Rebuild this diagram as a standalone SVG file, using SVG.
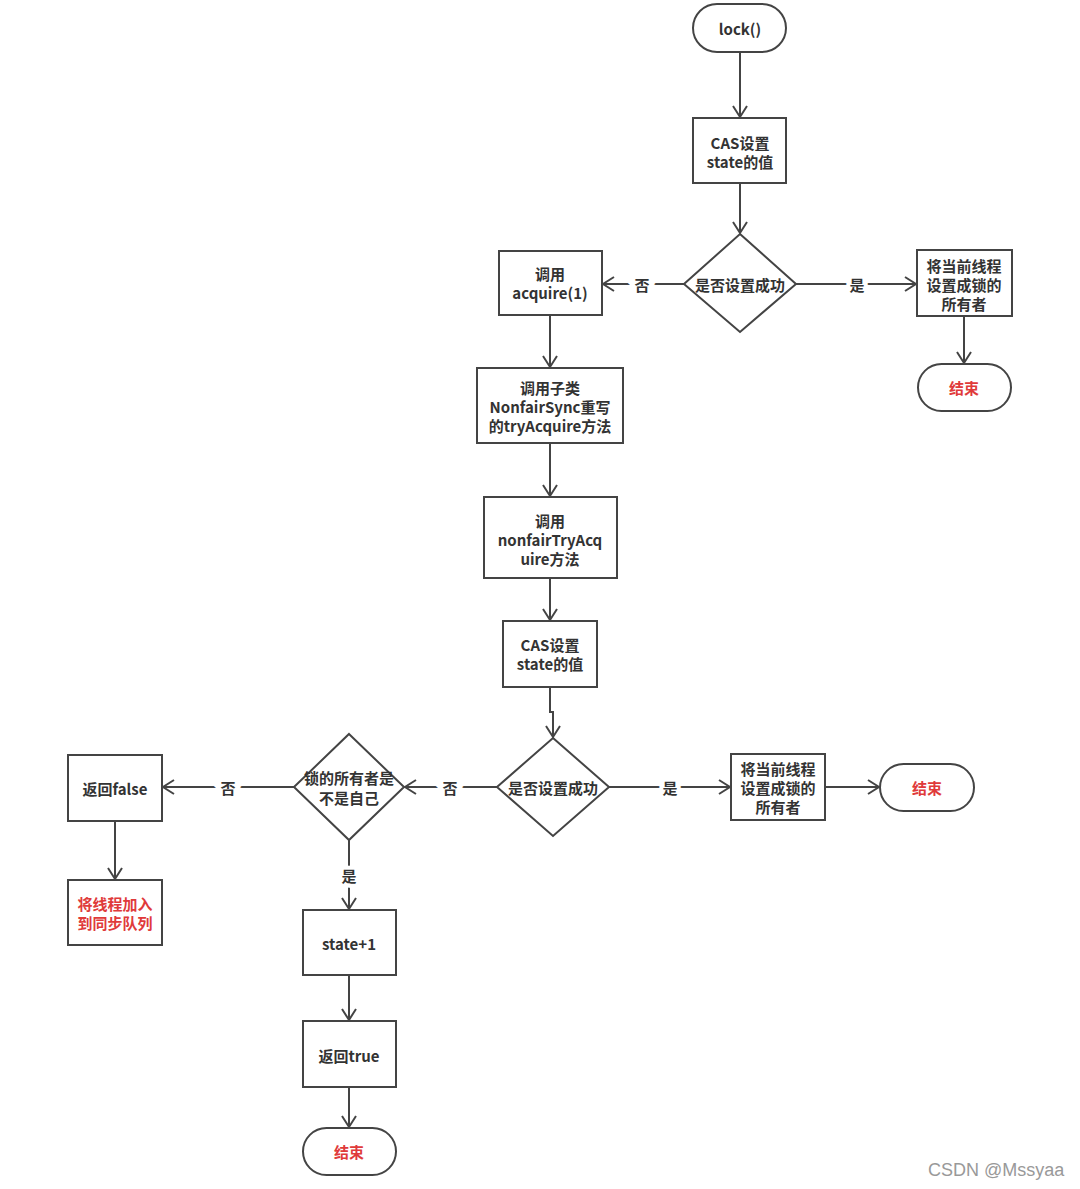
<svg xmlns="http://www.w3.org/2000/svg" width="1080" height="1189" viewBox="0 0 1080 1189">
<defs>
<marker id="arr" markerUnits="userSpaceOnUse" markerWidth="14" markerHeight="16" viewBox="0 0 14 16" refX="12" refY="8" orient="auto">
<path d="M1,1 L12,8 L1,15" fill="none" stroke="#444" stroke-width="2"/>
</marker>
</defs>
<style>
.n{fill:#fff;stroke:#444;stroke-width:2}
.t{font-family:"Noto Sans CJK SC","Liberation Sans",sans-serif;font-size:15px;font-weight:bold;fill:#333;text-anchor:middle;dominant-baseline:central}
.r{fill:#e03a3a}
.c{fill:none;stroke:#444;stroke-width:2}
.l{font-family:"Noto Sans CJK SC","Liberation Sans",sans-serif;font-size:15px;font-weight:bold;fill:#333;text-anchor:middle;dominant-baseline:central;paint-order:stroke;stroke:#fff;stroke-width:8px}
</style>
<rect width="1080" height="1189" fill="#fff"/>
<g id="connectors">
<path class="c" d="M740,52 V117" marker-end="url(#arr)"/>
<path class="c" d="M740,183 V233" marker-end="url(#arr)"/>
<path class="c" d="M796,284 H916" marker-end="url(#arr)"/>
<path class="c" d="M964,316 V363" marker-end="url(#arr)"/>
<path class="c" d="M684,284 H603" marker-end="url(#arr)"/>
<path class="c" d="M550,315 V367" marker-end="url(#arr)"/>
<path class="c" d="M550,443 V496" marker-end="url(#arr)"/>
<path class="c" d="M550,578 V620" marker-end="url(#arr)"/>
<path class="c" d="M550,687 V712 H553 V737" marker-end="url(#arr)"/>
<path class="c" d="M609,787 H730" marker-end="url(#arr)"/>
<path class="c" d="M825,787 H879" marker-end="url(#arr)"/>
<path class="c" d="M497,787 H405" marker-end="url(#arr)"/>
<path class="c" d="M294,787 H163" marker-end="url(#arr)"/>
<path class="c" d="M115,821 V879" marker-end="url(#arr)"/>
<path class="c" d="M349,840 V909" marker-end="url(#arr)"/>
<path class="c" d="M349,975 V1020" marker-end="url(#arr)"/>
<path class="c" d="M349,1087 V1127" marker-end="url(#arr)"/>
<text class="l" x="857" y="284">是</text>
<text class="l" x="642" y="284">否</text>
<text class="l" x="670" y="787">是</text>
<text class="l" x="450" y="787">否</text>
<text class="l" x="228" y="787">否</text>
<text class="l" x="349" y="875">是</text>
</g>
<g id="lock">
<rect class="n" x="693" y="4" width="93" height="48" rx="24"/>
<text class="t" x="740" y="28">lock()</text>
</g>
<g id="cas1">
<rect class="n" x="693" y="118" width="93" height="65"/>
<text class="t" x="740" y="142">CAS设置</text>
<text class="t" x="740" y="161">state的值</text>
</g>
<g id="dec1">
<polygon class="n" points="740,234 796,284 740,332 684,284"/>
<text class="t" x="740" y="284">是否设置成功</text>
</g>
<g id="owner1">
<rect class="n" x="917" y="250" width="95" height="66"/>
<text class="t" x="964" y="265">将当前线程</text>
<text class="t" x="964" y="284">设置成锁的</text>
<text class="t" x="964" y="303">所有者</text>
</g>
<g id="end1">
<rect class="n" x="918" y="364" width="93" height="47" rx="23.5"/>
<text class="t r" x="964" y="387">结束</text>
</g>
<g id="acquire">
<rect class="n" x="499" y="251" width="103" height="64"/>
<text class="t" x="550" y="273">调用</text>
<text class="t" x="550" y="292">acquire(1)</text>
</g>
<g id="tryAcquire">
<rect class="n" x="477" y="368" width="146" height="75"/>
<text class="t" x="550" y="387">调用子类</text>
<text class="t" x="550" y="406">NonfairSync重写</text>
<text class="t" x="550" y="425">的tryAcquire方法</text>
</g>
<g id="nonfair">
<rect class="n" x="484" y="497" width="133" height="81"/>
<text class="t" x="550" y="520">调用</text>
<text class="t" x="550" y="539">nonfairTryAcq</text>
<text class="t" x="550" y="558">uire方法</text>
</g>
<g id="cas2">
<rect class="n" x="503" y="621" width="94" height="66"/>
<text class="t" x="550" y="644">CAS设置</text>
<text class="t" x="550" y="663">state的值</text>
</g>
<g id="dec2">
<polygon class="n" points="553,738 609,787 553,836 497,787"/>
<text class="t" x="553" y="787">是否设置成功</text>
</g>
<g id="owner2">
<rect class="n" x="731" y="754" width="94" height="66"/>
<text class="t" x="778" y="768">将当前线程</text>
<text class="t" x="778" y="787">设置成锁的</text>
<text class="t" x="778" y="806">所有者</text>
</g>
<g id="end2">
<rect class="n" x="880" y="764" width="94" height="47" rx="23.5"/>
<text class="t r" x="927" y="787">结束</text>
</g>
<g id="dec3">
<polygon class="n" points="349,734 404,787 349,840 294,787"/>
<text class="t" x="349" y="777">锁的所有者是</text>
<text class="t" x="349" y="797">不是自己</text>
</g>
<g id="retFalse">
<rect class="n" x="68" y="755" width="94" height="66"/>
<text class="t" x="115" y="788">返回false</text>
</g>
<g id="enqueue">
<rect class="n" x="68" y="880" width="94" height="65"/>
<text class="t r" x="115" y="903">将线程加入</text>
<text class="t r" x="115" y="922">到同步队列</text>
</g>
<g id="inc">
<rect class="n" x="303" y="910" width="93" height="65"/>
<text class="t" x="349" y="943">state+1</text>
</g>
<g id="retTrue">
<rect class="n" x="303" y="1021" width="93" height="66"/>
<text class="t" x="349" y="1055">返回true</text>
</g>
<g id="end3">
<rect class="n" x="303" y="1128" width="93" height="47" rx="23.5"/>
<text class="t r" x="349" y="1151">结束</text>
</g>
<text x="928" y="1176" font-family="Liberation Sans, sans-serif" font-size="18" fill="#999">CSDN @Mssyaa</text>
</svg>
